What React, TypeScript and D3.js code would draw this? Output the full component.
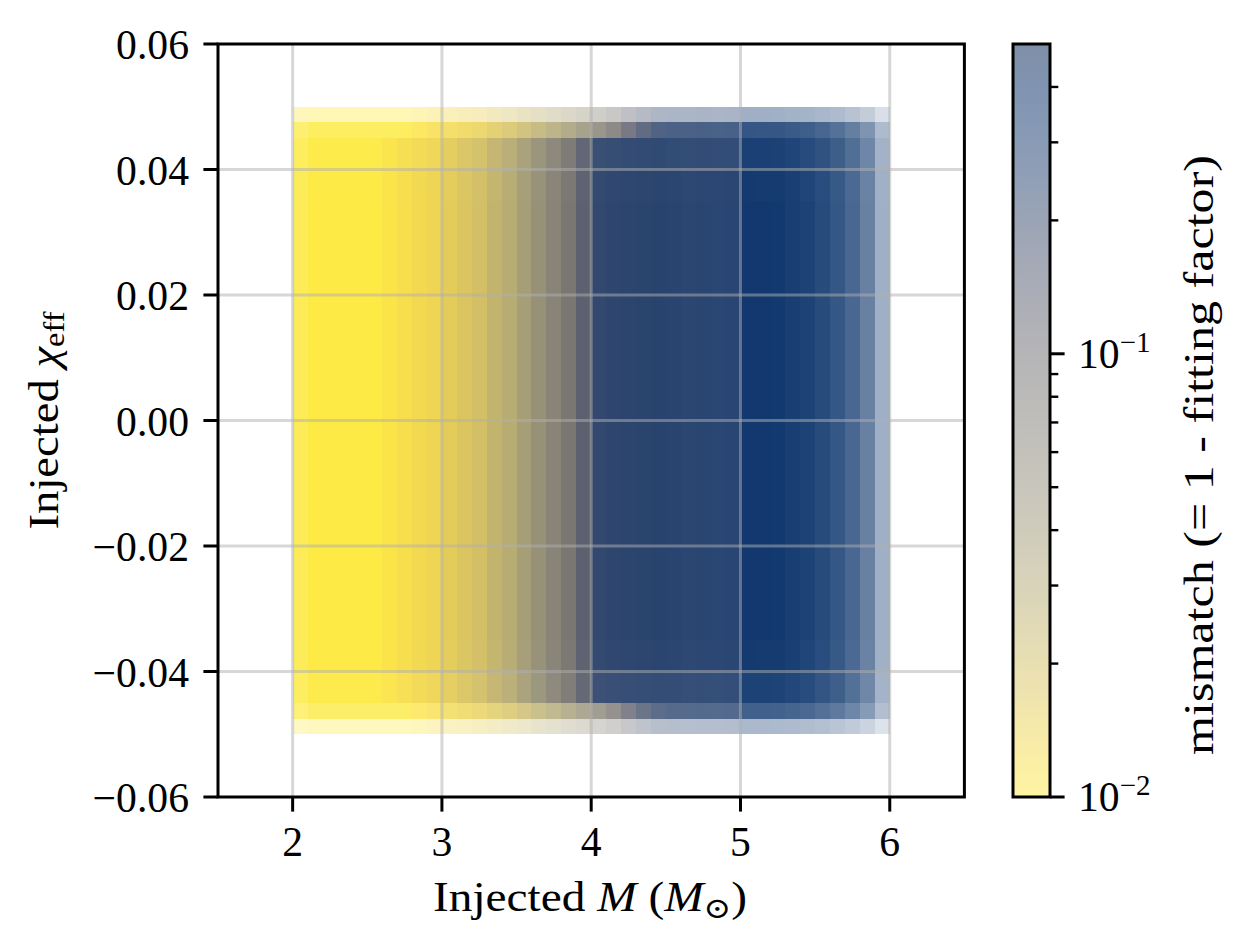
import React from "react";
import * as d3 from "d3";

// ---- data ----
// mass bins (left edges, width 0.1 Msun)
const massBinStart = [
  2.0, 2.1, 2.2, 2.3, 2.4, 2.5, 2.6, 2.7, 2.8, 2.9,
  3.0, 3.1, 3.2, 3.3, 3.4, 3.5, 3.6, 3.7, 3.8, 3.9,
  4.0, 4.1, 4.2, 4.3, 4.4, 4.5, 4.6, 4.7, 4.8, 4.9,
  5.0, 5.1, 5.2, 5.3, 5.4, 5.5, 5.6, 5.7, 5.8, 5.9,
];
const massBinWidth = 0.1;
// typical mismatch in the bulk of each mass bin
const coreMismatch = [
  0.008, 0.008, 0.008, 0.008, 0.009, 0.010, 0.011, 0.012, 0.013, 0.014,
  0.016, 0.018, 0.020, 0.024, 0.028, 0.036, 0.046, 0.060, 0.078, 0.125,
  0.210, 0.220, 0.225, 0.230, 0.235, 0.240, 0.240, 0.245, 0.250, 0.255,
  0.340, 0.350, 0.360, 0.360, 0.370, 0.370, 0.380, 0.380, 0.380, 0.380,
];
// typical mismatch along the outer chi_eff edges of each mass bin
const edgeMismatch = [
  0.008, 0.008, 0.008, 0.008, 0.008, 0.009, 0.009, 0.010, 0.011, 0.012,
  0.013, 0.014, 0.015, 0.017, 0.019, 0.022, 0.026, 0.030, 0.036, 0.045,
  0.060, 0.080, 0.120, 0.170, 0.210, 0.230, 0.240, 0.245, 0.250, 0.255,
  0.340, 0.350, 0.360, 0.360, 0.370, 0.370, 0.380, 0.380, 0.380, 0.380,
];
// how densely each mass bin is covered by injections
const columnDensity = [
  0.90, 1.00, 1.00, 1.00, 1.00, 1.00, 1.00, 1.00, 1.00, 1.00,
  1.00, 1.00, 1.00, 1.00, 1.00, 1.00, 1.00, 1.00, 1.00, 1.00,
  1.00, 1.00, 1.00, 1.00, 1.00, 0.99, 0.98, 0.98, 0.97, 0.97,
  0.97, 0.96, 0.95, 0.93, 0.90, 0.86, 0.80, 0.72, 0.60, 0.38,
];
// chi_eff bin edges (finer near the outer edges of the injected range)
const chiEdges = [
  -0.05, -0.0475, -0.045, -0.04, -0.035, -0.03, -0.025, -0.02, -0.015, -0.01, -0.005,
  0.0, 0.005, 0.01, 0.015, 0.02, 0.025, 0.03, 0.035, 0.04, 0.045, 0.0475, 0.05,
];
const rowDensity = [
  0.35, 0.8, 0.95, 0.99, 1, 1, 1, 1, 1, 1, 1,
  1, 1, 1, 1, 1, 1, 1, 0.99, 0.96, 0.85, 0.4,
];
const edgeRows = [0, 1, 20, 21];

const xTicks = [2, 3, 4, 5, 6];
const yTicks = [-0.06, -0.04, -0.02, 0.0, 0.02, 0.04, 0.06];
const cbarMajor = [0.01, 0.1];
const cbarMajorExp = ["−2", "−1"];
const cbarMinor = [0.02, 0.03, 0.04, 0.05, 0.06, 0.07, 0.08, 0.09, 0.2, 0.3, 0.4];
const xDomain = [1.5, 6.5];
const yDomain = [-0.06, 0.06];
const cDomain = [0.01, 0.5];

// ---- layout ----
const W = 1251;
const H = 951;
const plot = { left: 218, right: 964.4, top: 44, bottom: 797 };
const cbar = { left: 1013, right: 1050, top: 44, bottom: 797 };
const FONT = "'Liberation Serif', 'DejaVu Serif', serif";
const FS = 41.67;
const LW = 3;

const fmtY = (v: number) => {
  const s = Math.abs(v).toFixed(2);
  return v < -1e-9 ? "\u2212" + s : s;
};

export default function App() {
  const x = d3.scaleLinear().domain(xDomain).range([plot.left, plot.right]);
  const y = d3.scaleLinear().domain(yDomain).range([plot.bottom, plot.top]);
  const tScale = d3.scaleLog().domain(cDomain).range([1, 0]).clamp(true);
  const color = (m: number) => d3.interpolateCividis(tScale(m));
  const yc = d3.scaleLog().domain(cDomain).range([cbar.bottom, cbar.top]);

  const cells: React.ReactElement[] = [];
  massBinStart.forEach((m0, i) => {
    rowDensity.forEach((rd, j) => {
      const mm = edgeRows.includes(j) ? edgeMismatch[i] : coreMismatch[i];
      const x0 = x(m0);
      const x1 = x(m0 + massBinWidth);
      const yTop = y(chiEdges[j + 1]);
      const yBot = y(chiEdges[j]);
      cells.push(
        <rect
          key={`c${i}-${j}`}
          x={x0}
          y={yTop}
          width={x1 - x0}
          height={yBot - yTop}
          fill={color(mm)}
          fillOpacity={columnDensity[i] * rd}
          shapeRendering="crispEdges"
        />
      );
    });
  });

  const stops = d3.range(0, 1.0001, 0.05);

  return (
    <svg
      width={W}
      height={H}
      viewBox={`0 0 ${W} ${H}`}
      style={{ position: "absolute", left: 0, top: 0, background: "#fff" }}
      fontFamily={FONT}
    >
      <defs>
        <linearGradient id="cbgrad" x1="0" y1="0" x2="0" y2="1">
          {stops.map((s) => (
            <stop key={s} offset={s} stopColor={d3.interpolateCividis(s)} />
          ))}
        </linearGradient>
        <clipPath id="plotclip">
          <rect x={plot.left} y={plot.top} width={plot.right - plot.left} height={plot.bottom - plot.top} />
        </clipPath>
      </defs>
      <rect x={0} y={0} width={W} height={H} fill="#fff" />

      {/* scatter density */}
      <g clipPath="url(#plotclip)">{cells}</g>

      {/* grid on top */}
      <g stroke="#b0b0b0" strokeOpacity={0.5} strokeWidth={LW}>
        {xTicks.map((t) => (
          <line key={`gx${t}`} x1={x(t)} x2={x(t)} y1={plot.top} y2={plot.bottom} />
        ))}
        {yTicks
          .filter((t) => t > yDomain[0] && t < yDomain[1])
          .map((t) => (
            <line key={`gy${t}`} x1={plot.left} x2={plot.right} y1={y(t)} y2={y(t)} />
          ))}
      </g>

      {/* axes frame */}
      <rect
        x={plot.left}
        y={plot.top}
        width={plot.right - plot.left}
        height={plot.bottom - plot.top}
        fill="none"
        stroke="#000"
        strokeWidth={LW}
      />
      <g stroke="#000" strokeWidth={LW}>
        {xTicks.map((t) => (
          <line key={`tx${t}`} x1={x(t)} x2={x(t)} y1={plot.bottom} y2={plot.bottom + 14.6} />
        ))}
        {yTicks.map((t) => (
          <line key={`ty${t}`} x1={plot.left - 14.6} x2={plot.left} y1={y(t)} y2={y(t)} />
        ))}
      </g>
      <g fontSize={FS} fill="#000">
        {xTicks.map((t) => (
          <text key={`lx${t}`} x={x(t)} y={856} textAnchor="middle">
            {t}
          </text>
        ))}
        {yTicks.map((t) => (
          <text key={`ly${t}`} x={189} y={y(t) + 15} textAnchor="end">
            {fmtY(t)}
          </text>
        ))}
        <text
          x={590}
          y={911}
          textAnchor="middle"
          textLength={314}
          lengthAdjust="spacingAndGlyphs"
        >
          Injected <tspan fontStyle="italic">M</tspan> (<tspan fontStyle="italic">M</tspan>
          <tspan fontSize={29} dy={7}>⊙</tspan>
          <tspan dy={-7}>)</tspan>
        </text>
        <text
          transform={`translate(58,${(plot.top + plot.bottom) / 2}) rotate(-90)`}
          textAnchor="middle"
          textLength={218}
          lengthAdjust="spacingAndGlyphs"
        >
          Injected <tspan fontStyle="italic">χ</tspan>
          <tspan fontSize={29} dy={6}>eff</tspan>
        </text>
      </g>

      {/* colorbar */}
      <rect
        x={cbar.left}
        y={cbar.top}
        width={cbar.right - cbar.left}
        height={cbar.bottom - cbar.top}
        fill="url(#cbgrad)"
        fillOpacity={0.5}
      />
      <rect
        x={cbar.left}
        y={cbar.top}
        width={cbar.right - cbar.left}
        height={cbar.bottom - cbar.top}
        fill="none"
        stroke="#000"
        strokeWidth={LW}
      />
      <g stroke="#000">
        {cbarMajor.map((v) => (
          <line key={`cm${v}`} x1={cbar.right} x2={cbar.right + 14.6} y1={yc(v)} y2={yc(v)} strokeWidth={LW} />
        ))}
        {cbarMinor.map((v) => (
          <line key={`cn${v}`} x1={cbar.right} x2={cbar.right + 8.3} y1={yc(v)} y2={yc(v)} strokeWidth={2.4} />
        ))}
      </g>
      <g fontSize={FS} fill="#000">
        {cbarMajor.map((v, i) => (
          <text key={`cl${v}`} x={1078} y={yc(v) + 14}>
            10
            <tspan fontSize={29} dy={-16}>
              {cbarMajorExp[i]}
            </tspan>
          </text>
        ))}
        <text
          transform={`translate(1213,455) rotate(-90)`}
          textAnchor="middle"
          textLength={600}
          lengthAdjust="spacingAndGlyphs"
        >
          mismatch (= 1 - fitting factor)
        </text>
      </g>
    </svg>
  );
}
